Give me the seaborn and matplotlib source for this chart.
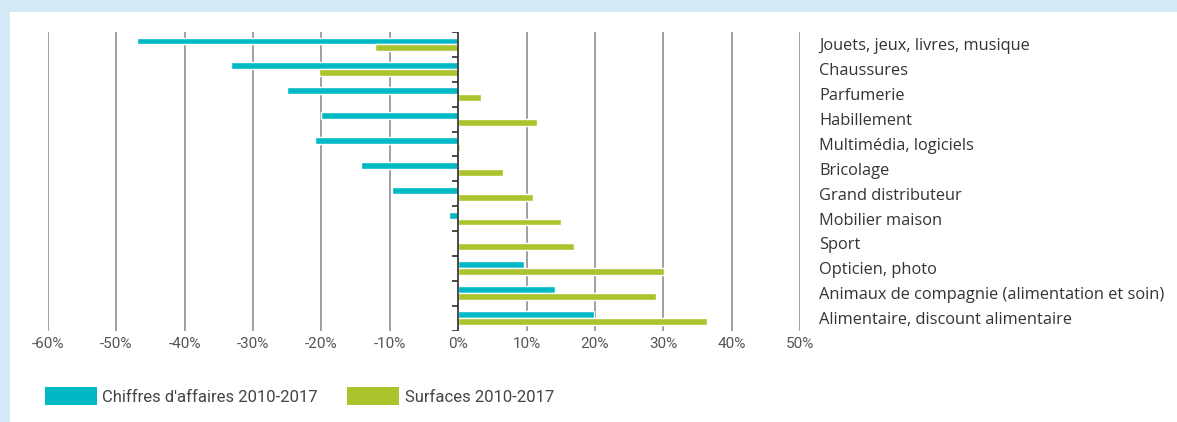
import matplotlib
matplotlib.use("Agg")
import matplotlib.pyplot as plt
from matplotlib.patches import Rectangle
import seaborn as sns
import pandas as pd

categories = [
    "Jouets, jeux, livres, musique",
    "Chaussures",
    "Parfumerie",
    "Habillement",
    "Multimédia, logiciels",
    "Bricolage",
    "Grand distributeur",
    "Mobilier maison",
    "Sport",
    "Opticien, photo",
    "Animaux de compagnie (alimentation et soin)",
    "Alimentaire, discount alimentaire",
]
chiffres_affaires = [-47.0, -33.3, -25.0, -20.0, -21.0, -14.2, -9.7, -1.4, 0.0, 9.6, 14.2, 19.9]
surfaces = [-12.1, -20.4, 3.3, 11.6, 0.3, 6.5, 11.0, 15.0, 17.0, 30.1, 29.0, 36.4]
series_names = ["Chiffres d'affaires 2010-2017", "Surfaces 2010-2017"]
x_ticks = [-60, -50, -40, -30, -20, -10, 0, 10, 20, 30, 40, 50]

CYAN = "#00b9c5"
GREEN = "#a9c42d"
BG_BLUE = "#d3e9f6"

df = pd.DataFrame({
    "categorie": categories * 2,
    "valeur": chiffres_affaires + surfaces,
    "serie": [series_names[0]] * len(categories) + [series_names[1]] * len(categories),
})

sns.set_theme(style="white")
label_font = ["Open Sans", "DejaVu Sans"]
tick_font = ["Roboto", "DejaVu Sans"]

W, H = 1177, 422
fig = plt.figure(figsize=(W / 100, H / 100), dpi=100)
fig.patch.set_facecolor(BG_BLUE)
panel = Rectangle((10 / W, 0), 1, 1 - 12 / H, transform=fig.transFigure,
                  facecolor="white", edgecolor="none", zorder=-5)
fig.patches.append(panel)

ax = fig.add_axes([48 / W, 1 - 330.5 / H, (800 - 48) / W, (330.5 - 32) / H])
ax.set_facecolor("none")

sns.barplot(data=df, y="categorie", x="valeur", hue="serie", order=categories,
            hue_order=series_names, palette=[CYAN, GREEN], orient="h",
            width=0.55, dodge=True, saturation=1, ax=ax, legend=False, zorder=3)

ax.set_xlim(x_ticks[0], x_ticks[-1])
ax.set_ylim(len(categories) - 0.5, -0.5)
for s in ax.spines.values():
    s.set_visible(False)

# vertical grid lines, with a darker zero axis
for t in x_ticks:
    if t == 0:
        continue
    ax.axvline(t, color="#a0a0a0", lw=1.4, zorder=1)
ax.axvline(0, color="#3a3a3a", lw=1.3, zorder=4)
bounds = [i - 0.5 for i in range(len(categories) + 1)]
ax.hlines(bounds, -0.9, 0, color="#3a3a3a", lw=1.3, zorder=4)

ax.set_xticks(x_ticks)
ax.set_xticklabels([f"{t}%" for t in x_ticks], family=tick_font, fontsize=11, color="#555555")
ax.tick_params(axis="x", length=0, pad=5)

ax.yaxis.tick_right()
ax.set_yticks(range(len(categories)))
ax.set_yticklabels(categories, family=label_font, fontsize=11.8, color="#333333")
ax.tick_params(axis="y", length=0, pad=14)
ax.set_xlabel("")
ax.set_ylabel("")

handles = [Rectangle((0, 0), 1, 1, facecolor=c, edgecolor="none") for c in (CYAN, GREEN)]
fig.legend(handles, series_names, loc="upper left", bbox_to_anchor=(45 / W, 1 - 387 / H),
           ncol=2, frameon=False, borderpad=0, borderaxespad=0, handlelength=3.1,
           handleheight=1.3, handletextpad=0.35, columnspacing=1.75,
           prop={"family": tick_font, "size": 12}, labelcolor="#444444")

fig.savefig("out.png", dpi=100, facecolor=fig.get_facecolor())
